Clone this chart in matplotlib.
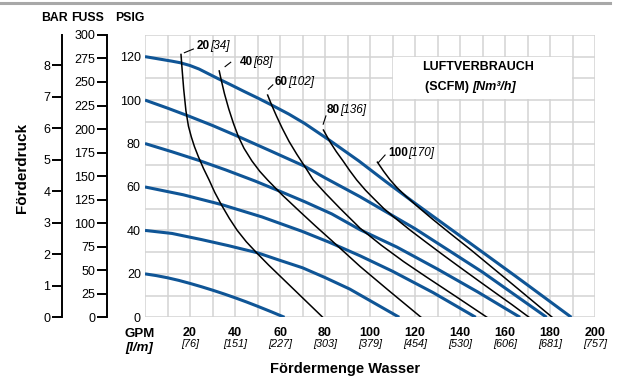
import numpy as np
import matplotlib
matplotlib.use("Agg")
import matplotlib.pyplot as plt
from matplotlib.lines import Line2D
from matplotlib.patches import Rectangle

# blue curves: air inlet pressure (psig) -> (GPM, head psig)
air_psi = [20, 40, 60, 80, 100, 120]
blue_gpm = [
    [0, 5, 10, 15, 20, 25, 30, 35, 40, 45, 50, 56, 62],
    [0, 12, 25, 37, 50, 60, 70, 80, 91, 102, 113],
    [0, 17, 34, 52, 70, 82, 95.6, 110, 128, 147],
    [0, 12, 24, 36, 49, 60, 71, 83, 95.6, 112, 130, 148, 166.7],
    [0, 10, 20, 30, 41.5, 56, 71, 80, 95.6, 120, 150, 178.5],
    [0, 4, 8, 12, 15.6, 20, 24, 28, 32.6, 38, 44, 50, 56.3, 64, 71, 82, 95,
     107, 120, 140, 165, 189.5],
]
blue_head = [
    [20, 19.2, 18.2, 17.0, 15.6, 14.1, 12.5, 10.8, 9.0, 7.1, 5.1, 2.6, 0],
    [40, 38.6, 35.8, 33.0, 29.7, 26.2, 22.8, 18.3, 13.0, 6.5, 0],
    [60, 56.4, 51.9, 46.2, 39.5, 34.5, 28.3, 21.2, 11.4, 0],
    [80, 76.2, 72.2, 67.8, 62.7, 58.0, 53.2, 47.6, 40.3, 32.3, 22.2, 11.6, 0],
    [100, 96.3, 92.4, 88.3, 83.2, 76.5, 69.5, 64.2, 55.5, 40.8, 20.8, 0],
    [120, 119.3, 118.6, 117.9, 117.2, 115.9, 114.3, 112.2, 109.8, 107.1, 104,
     101, 97.7, 93.5, 89.2, 81.5, 72, 62.5, 52.5, 37.5, 18.7, 0],
]

# black curves: air consumption SCFM [Nm3/h]
scfm = ["20", "40", "60", "80", "100"]
nm3h = ["[34]", "[68]", "[102]", "[136]", "[170]"]
black_gpm = [
    [16, 16.5, 17.2, 18.2, 19.3, 20.6, 22, 23.7, 26, 28.5, 31, 34, 37.5, 41, 45,
     49.6, 55, 60, 69, 79],
    [33, 33.8, 35.3, 37.2, 39.3, 41.5, 44, 47.5, 51, 54.5, 61, 69, 76, 83, 95.6,
     108, 122.7],
    [54.5, 56.3, 58.5, 61, 64, 67.5, 71.1, 74.8, 80, 87, 95.6, 105, 115, 125,
     138, 152],
    [79.3, 82.2, 85, 88, 91, 94.1, 98, 102, 106, 110.4, 118, 125, 133, 140, 148,
     155, 163, 170.7],
    [103.3, 106, 108.9, 112, 116, 121, 128, 136, 145, 154, 163, 172, 181],
]
black_head = [
    [121, 114, 105, 95, 88, 83, 78.5, 74, 68.5, 63.2, 57.5, 51.7, 45.5, 40, 34.8,
     29.7, 24, 19, 10, 0],
    [113.4, 109.6, 103, 96, 89.3, 83.2, 77.8, 72, 67.2, 63.2, 56.3, 48.5, 41.8,
     35.3, 23.4, 12.6, 0],
    [102.3, 97.7, 92.5, 87, 81, 75, 69.3, 63.2, 57.3, 49.8, 41, 33.2, 25.6, 18.6,
     9.7, 0],
    [86.2, 80.8, 76.3, 72, 67.5, 63.2, 58.5, 54.3, 50.2, 46.3, 40, 34.5, 28.3, 23,
     17, 11.8, 5.9, 0],
    [71.4, 67.3, 63.3, 59.7, 55.7, 51.1, 45, 38.3, 30.9, 23.2, 15.5, 7.75, 0],
]

gpm_ticks = [20, 40, 60, 80, 100, 120, 140, 160, 180, 200]
lpm_labels = ["[76]", "[151]", "[227]", "[303]", "[379]", "[454]", "[530]",
              "[606]", "[681]", "[757]"]

BLUE = "#0f5596"
GRID = "#d3d3d3"

plt.rcParams["font.family"] = ["Liberation Sans", "DejaVu Sans"]
plt.rcParams["font.size"] = 8.6

fig = plt.figure(figsize=(6.24, 3.83), dpi=100)
ax = fig.add_axes([145 / 624, 1 - 317.3 / 383, 450 / 624, 282.4 / 383])
ax.set_xlim(0, 200)
ax.set_ylim(0, 130)

# grid every 10 units, labels only every 20 psi
ax.set_xticks(np.arange(0, 201, 10))
ax.set_xticklabels([])
ax.set_yticks(np.arange(0, 131, 10))
ax.set_yticklabels([str(v) if v % 20 == 0 and v <= 120 else "" for v in range(0, 131, 10)])
ax.tick_params(length=0, pad=3, labelsize=9)
ax.grid(True, color=GRID, linewidth=1.1)
ax.set_axisbelow(True)
for s in ax.spines.values():
    s.set_visible(False)

for xs, ys in zip(blue_gpm, blue_head):
    ax.plot(xs, ys, color=BLUE, linewidth=2.2, solid_capstyle="butt", zorder=2)
for xs, ys in zip(black_gpm, black_head):
    ax.plot(xs, ys, color="black", linewidth=1.1, zorder=3)

# curve labels with short leader lines
leaders = [((17.5, 121.8), (21.5, 123.5), (23.0, 125.0)),
           ((35.6, 115.4), (38.1, 117.4), (42.2, 117.7)),
           ((54.8, 105.0), (56.8, 107.0), (57.8, 108.5)),
           ((79.2, 88.9), (80.4, 92.7), (80.9, 95.4)),
           ((103.7, 71.2), (106.7, 74.7), (108.1, 75.5))]
for (p1, p2, pt), a, b in zip(leaders, scfm, nm3h):
    ax.plot([p1[0], p2[0]], [p1[1], p2[1]], color="black", linewidth=0.8, zorder=3)
    t = ax.text(pt[0], pt[1], a, fontsize=8.5, fontweight="bold", ha="left", va="center")
    ax.annotate(b, xy=(1, 0), xycoords=t, fontsize=8.5, style="italic",
                ha="left", va="bottom")

# legend box
ax.add_patch(Rectangle((110.4, 100.4), 79.2, 19.2, facecolor="white",
                       edgecolor="none", zorder=1))
ax.text(148, 115.2, "LUFTVERBRAUCH", fontsize=9, fontweight="bold",
        ha="center", va="center", zorder=4)
t1 = ax.text(145.5, 106, "(SCFM) ", fontsize=9, fontweight="bold",
             ha="right", va="center", zorder=4)
ax.annotate("[Nm³/h]", xy=(1, 0), xycoords=t1, fontsize=9, fontweight="bold",
            style="italic", ha="left", va="bottom", zorder=4)

# x tick labels: GPM bold, l/m italic below
tr = ax.get_xaxis_transform()
for g, l in zip(gpm_ticks, lpm_labels):
    ax.text(g, -15.7 / 282.4, str(g), transform=tr, fontsize=9, fontweight="bold",
            ha="center", va="center")
    ax.text(g, -26.5 / 282.4, l, transform=tr, fontsize=7.8, style="italic",
            ha="center", va="center")
fig.text(140 / 624, 1 - 334 / 383, "GPM", fontsize=9.5, fontweight="bold",
         ha="center", va="center")
fig.text(139 / 624, 1 - 348 / 383, "[l/m]", fontsize=9.5, fontweight="bold",
         style="italic", ha="center", va="center")

# extra pressure scales: feet of water and bar
feet = ax.secondary_yaxis(-38 / 450, functions=(lambda p: p * 300 / 130,
                                                 lambda f: f * 130 / 300))
feet.set_yticks(np.arange(0, 301, 25))
bar = ax.secondary_yaxis(-83 / 450, functions=(lambda p: p / 14.5038,
                                                lambda b: b * 14.5038))
bar.set_yticks(np.arange(0, 9, 1))
for sec in (feet, bar):
    sec.spines["left"].set_linewidth(1.4)
    sec.tick_params(direction="out", length=7, width=1.4, labelsize=9, pad=1.5)

fig.text(54 / 624, 1 - 18 / 383, "BAR", fontsize=8.8, fontweight="bold", ha="center", va="center")
fig.text(87.5 / 624, 1 - 18 / 383, "FUSS", fontsize=8.8, fontweight="bold", ha="center", va="center")
fig.text(130 / 624, 1 - 18 / 383, "PSIG", fontsize=8.8, fontweight="bold", ha="center", va="center")

fig.text(22 / 624, 1 - 168 / 383, "Förderdruck", fontsize=11, fontweight="bold",
         rotation=90, ha="center", va="center")
fig.text(345 / 624, 1 - 369 / 383, "Fördermenge Wasser", fontsize=10.5,
         fontweight="bold", ha="center", va="center")

fig.add_artist(Line2D([0, 610 / 624], [1 - 2.5 / 383] * 2, color="#a8a8a8", linewidth=2.2))

fig.savefig("out.png", dpi=100)
